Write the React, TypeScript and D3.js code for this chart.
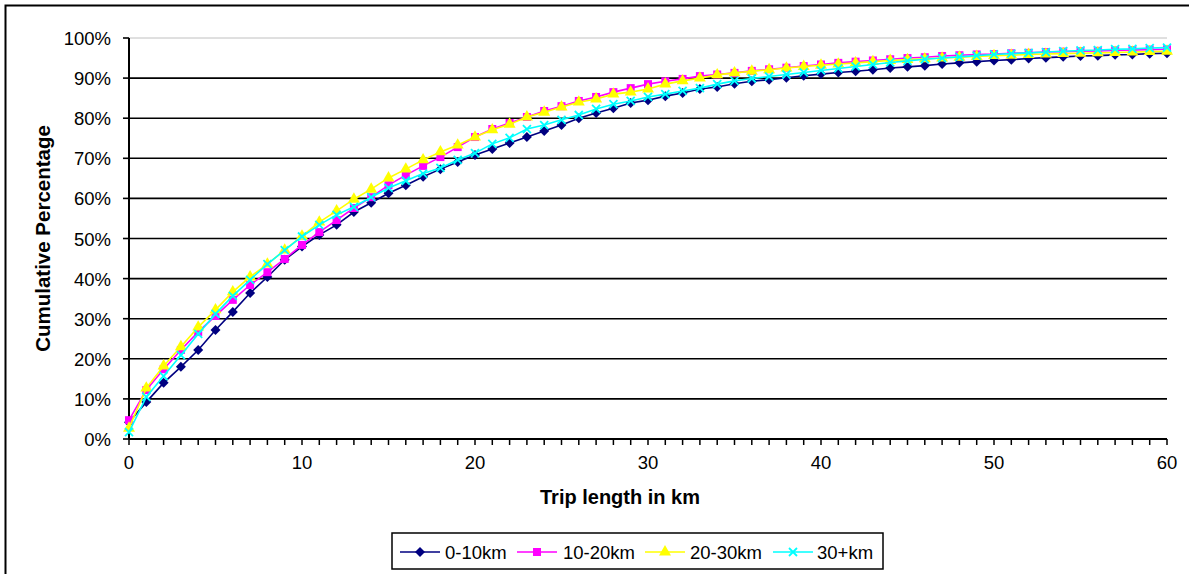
import React from "react";
import * as d3 from "d3";

// trip length categories 0..60 km
const km = d3.range(0, 61);

const series0to10 = [4.2, 9.2, 14.0, 18.0, 22.2, 27.2, 31.7, 36.4, 40.4, 44.7, 48.0,
  50.9, 53.4, 56.6, 58.9, 61.3, 63.3, 65.4, 67.3, 69.1, 70.8,
  72.3, 73.8, 75.3, 76.8, 78.3, 80.0, 81.3, 82.5, 83.8, 84.5,
  85.5, 86.3, 87.3, 87.8, 88.6, 89.2, 89.6, 90.1, 90.6, 91.0,
  91.4, 91.7, 92.1, 92.5, 92.8, 93.1, 93.5, 93.8, 94.1, 94.4,
  94.6, 94.9, 95.1, 95.3, 95.5, 95.6, 95.8, 95.9, 96.1, 96.2];

const series10to20 = [4.7, 12.2, 17.4, 22.2, 26.7, 30.7, 34.7, 38.4, 41.6, 44.9, 48.4,
  51.6, 54.6, 57.6, 60.3, 63.3, 65.8, 68.1, 70.3, 72.8, 75.3,
  77.3, 78.8, 80.3, 81.8, 83.0, 84.3, 85.3, 86.5, 87.5, 88.5,
  89.2, 89.8, 90.5, 90.9, 91.3, 91.8, 92.2, 92.6, 93.0, 93.4,
  93.8, 94.1, 94.4, 94.7, 95.0, 95.2, 95.5, 95.7, 95.9, 96.0,
  96.2, 96.3, 96.5, 96.6, 96.7, 96.8, 96.9, 97.0, 97.1, 97.2];

const series20to30 = [2.7, 12.7, 18.2, 23.0, 27.9, 32.2, 36.7, 40.4, 43.6, 47.1, 50.6,
  54.1, 56.9, 59.8, 62.3, 65.1, 67.3, 69.6, 71.6, 73.3, 75.3,
  77.1, 78.5, 80.3, 81.5, 82.8, 84.0, 84.8, 86.0, 86.5, 87.3,
  88.5, 89.3, 90.0, 90.8, 91.3, 91.7, 92.1, 92.5, 92.9, 93.2,
  93.5, 93.8, 94.1, 94.4, 94.6, 94.8, 95.0, 95.2, 95.4, 95.6,
  95.7, 95.9, 96.0, 96.1, 96.2, 96.3, 96.4, 96.5, 96.6, 96.7];

const series30plus = [1.7, 10.5, 15.7, 20.9, 26.2, 31.2, 35.7, 39.7, 43.6, 47.1, 50.5,
  53.4, 55.9, 57.9, 60.3, 62.6, 64.4, 66.2, 67.6, 69.6, 71.3,
  73.6, 75.1, 77.3, 78.3, 79.6, 80.8, 82.3, 83.5, 84.3, 85.3,
  86.0, 86.8, 87.5, 88.5, 89.3, 89.9, 90.4, 90.9, 91.4, 91.9,
  92.4, 92.9, 93.4, 93.9, 94.3, 94.7, 95.0, 95.3, 95.6, 95.9,
  96.1, 96.3, 96.5, 96.7, 96.9, 97.0, 97.2, 97.3, 97.5, 97.6];

const seriesNames = ["0-10km", "10-20km", "20-30km", "30+km"];
const seriesColors = ["#000080", "#FF00FF", "#FFFF00", "#00FFFF"];
const seriesMarkers = ["diamond", "square", "triangle", "x"];
const seriesValues = [series0to10, series10to20, series20to30, series30plus];

const yTicks = [0, 10, 20, 30, 40, 50, 60, 70, 80, 90, 100];
const xLabels = [0, 10, 20, 30, 40, 50, 60];

const font = "'Liberation Sans', Arial, sans-serif";

function Marker({ kind, color, x, y }: { kind: string; color: string; x: number; y: number }) {
  const t = `translate(${x},${y})`;
  if (kind === "x") {
    return <path d="M-4,-4L4,4M-4,4L4,-4" transform={t} stroke={color} strokeWidth={1.8} fill="none" />;
  }
  if (kind === "diamond") {
    return <path d="M0,-5L5,0L0,5L-5,0Z" transform={t} fill={color} />;
  }
  const sym = kind === "square" ? d3.symbolSquare : d3.symbolTriangle;
  const size = kind === "square" ? 64 : 62;
  return <path d={d3.symbol(sym, size)() as string} transform={t} fill={color} />;
}

export default function App() {
  const x = d3.scaleLinear().domain([0, 60]).range([129, 1167]);
  const y = d3.scaleLinear().domain([0, 100]).range([439, 38]);

  const line = d3.line<number>()
    .x((_, i) => x(km[i]))
    .y((d) => y(d));

  const legendItems = [
    { lx: 400, tx: 445 },
    { lx: 517, tx: 563 },
    { lx: 645, tx: 690 },
    { lx: 773, tx: 817 },
  ];

  return (
    <svg width={1189} height={574} style={{ position: "absolute", left: 0, top: 0, background: "#fff" }}
      fontFamily={font}>
      <rect x={5.5} y={5.5} width={1200} height={600} fill="#fff" stroke="#000" strokeWidth={2} />

      {/* gridlines */}
      {yTicks.map((t) => (
        <line key={"g" + t} x1={x(0)} x2={x(60)} y1={y(t)} y2={y(t)}
          stroke={t === 100 ? "#c0c0c0" : "#000"} strokeWidth={t === 100 ? 1 : 1.6} />
      ))}

      {/* y axis */}
      <line x1={x(0)} x2={x(0)} y1={y(100)} y2={y(0)} stroke="#000" strokeWidth={2} />
      {yTicks.map((t) => (
        <g key={"yt" + t}>
          <line x1={x(0) - 6} x2={x(0)} y1={y(t)} y2={y(t)} stroke="#000" strokeWidth={1.6} />
          <text x={111} y={y(t) + 7} textAnchor="end" fontSize={18.5}>{t}%</text>
        </g>
      ))}

      {/* x axis */}
      <line x1={x(0)} x2={x(60)} y1={y(0)} y2={y(0)} stroke="#000" strokeWidth={2} />
      {km.map((k) => (
        <line key={"xt" + k} x1={x(k)} x2={x(k)} y1={y(0)} y2={y(0) + 6} stroke="#000" strokeWidth={1.5} />
      ))}
      {xLabels.map((k) => (
        <text key={"xl" + k} x={x(k)} y={469} textAnchor="middle" fontSize={18.5}>{k}</text>
      ))}

      {/* series */}
      {seriesValues.map((vals, si) => (
        <g key={"s" + si}>
          <path d={line(vals) as string} fill="none" stroke={seriesColors[si]} strokeWidth={1.6} />
          {vals.map((v, i) => (
            <Marker key={i} kind={seriesMarkers[si]} color={seriesColors[si]} x={x(km[i])} y={y(v)} />
          ))}
        </g>
      ))}

      {/* axis titles */}
      <text x={620} y={504} textAnchor="middle" fontSize={20} fontWeight="bold">Trip length in km</text>
      <text transform={`translate(50,${(y(0) + y(100)) / 2}) rotate(-90)`} textAnchor="middle"
        fontSize={20.5} fontWeight="bold">Cumulative Percentage</text>

      {/* legend */}
      <rect x={392} y={533} width={491} height={36} fill="#fff" stroke="#000" strokeWidth={1.5} />
      {legendItems.map((it, i) => (
        <g key={"lg" + i}>
          <line x1={it.lx} x2={it.lx + 40} y1={552} y2={552} stroke={seriesColors[i]} strokeWidth={1.6} />
          <Marker kind={seriesMarkers[i]} color={seriesColors[i]} x={it.lx + 20} y={552} />
          <text x={it.tx} y={558.5} fontSize={18.5}>{seriesNames[i]}</text>
        </g>
      ))}
    </svg>
  );
}
